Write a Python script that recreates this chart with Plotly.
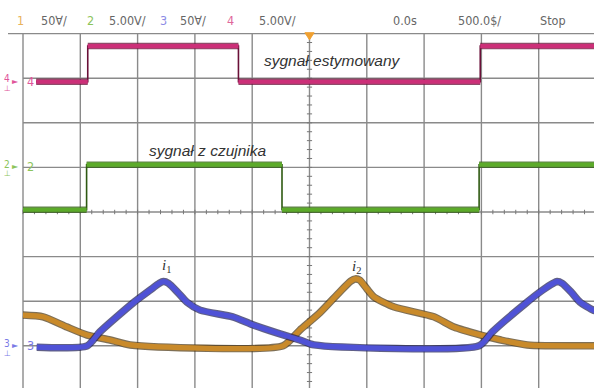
import plotly.graph_objects as go

# ---------------- data (units: screen divisions, 0 = centre of screen) ----------------
# channel 4 : "sygnał estymowany" (magenta)
t_ch4 = [-4.77, -3.87, -3.87, -1.24, -1.24, 2.98, 2.98, 5.0]
v_ch4 = [2.92, 2.92, 3.72, 3.72, 2.92, 2.92, 3.72, 3.72]
# channel 2 : "sygnał z czujnika" (green)
t_ch2 = [-5.0, -3.89, -3.89, -0.48, -0.48, 2.96, 2.96, 5.0]
v_ch2 = [0.05, 0.05, 1.06, 1.06, 0.05, 0.05, 1.06, 1.06]
# channel 3 : current i1 (blue)
t_ch3 = [-4.76, -3.88, -3.66, -3.08, -2.78, -2.62, -2.55, -2.46, -2.30, -2.14, -1.91, -1.34,
         -0.99, -0.57, -0.17, 0.08, 2.96, 3.19, 3.78, 4.07, 4.25, 4.32, 4.41, 4.57, 4.72, 4.95, 5.0]
v_ch3 = [-3.03, -3.00, -2.69, -2.04, -1.75, -1.60, -1.56, -1.60, -1.80, -2.02, -2.20, -2.35,
         -2.53, -2.71, -2.87, -2.98, -3.00, -2.69, -2.04, -1.75, -1.60, -1.56, -1.60, -1.80, -2.02, -2.20, -2.22]
# channel 1 : current i2 (orange)
t_ch1 = [-5.0, -4.65, -4.23, -3.88, -3.48, -3.13, -0.46, -0.17, 0.18, 0.53, 0.72, 0.80, 0.88,
         1.00, 1.13, 1.48, 2.17, 2.52, 2.99, 3.34, 3.80, 5.0]
v_ch1 = [-2.31, -2.35, -2.58, -2.76, -2.87, -2.98, -3.00, -2.65, -2.26, -1.79, -1.55, -1.50, -1.53,
         -1.72, -1.91, -2.13, -2.35, -2.58, -2.76, -2.87, -2.98, -3.00]

# header texts
hdr_texts = ["1", "50∀/", "2", "5.00V/", "3", "50∀/", "4", "5.00V/", "0.0s", "500.0$/", "Stop"]
hdr_colors = ["#e8b35a", "#666", "#8cc45a", "#666", "#8c8ce6", "#666", "#e0679a", "#666",
              "#666", "#666", "#666"]
hdr_px = [20, 54, 90, 127, 163, 193, 230, 277, 405, 479, 553]

# ---------------- geometry ----------------
W, H = 594, 388
X0, DX = 309.5, 57.3
Y0, DY = 212.0, 44.6
xr = [(0 - X0) / DX, (W - X0) / DX]
yr = [(Y0 - H) / DY, Y0 / DY]


def px(xp):
    return xp / W


def py(yp):
    return 1 - yp / H


def flats(t, v):
    xs, ys = [], []
    for i in range(len(t) - 1):
        if v[i] == v[i + 1]:
            xs += [t[i], t[i + 1], None]
            ys += [v[i], v[i + 1], None]
    return xs, ys


fig = go.Figure()

# square waves: thin edges + thick levels
for t, v, dark, col in [(t_ch4, v_ch4, "#6a1038", "#cc2f78"),
                        (t_ch2, v_ch2, "#2f5a12", "#5cab2a")]:
    fig.add_trace(go.Scatter(x=t, y=v, mode="lines", line=dict(color=dark, width=1.6),
                             hoverinfo="skip", showlegend=False))
    fx, fy = flats(t, v)
    fig.add_trace(go.Scatter(x=fx, y=fy, mode="lines", line=dict(color=dark, width=6.5),
                             opacity=0.75, hoverinfo="skip", showlegend=False))
    fig.add_trace(go.Scatter(x=fx, y=fy, mode="lines", line=dict(color=col, width=4.2),
                             hoverinfo="skip", showlegend=False))

# currents
for t, v, dark, col in [(t_ch1, v_ch1, "#4a3410", "#c98a2a"),
                        (t_ch3, v_ch3, "#1e1e55", "#4f52d6")]:
    fig.add_trace(go.Scatter(x=t, y=v, mode="lines",
                             line=dict(color=dark, width=7.5, shape="spline", smoothing=0.6),
                             opacity=0.7, hoverinfo="skip", showlegend=False))
    fig.add_trace(go.Scatter(x=t, y=v, mode="lines",
                             line=dict(color=col, width=5.2, shape="spline", smoothing=0.6),
                             hoverinfo="skip", showlegend=False))

# ---------------- grid ----------------
shapes = []
gcol = "#8a8a8a"
for k in range(-5, 6):
    shapes.append(dict(type="line", xref="x", yref="y", x0=k, x1=k, y0=-4.2, y1=4.0,
                       line=dict(color=gcol, width=1.4), layer="below"))
for k in range(-4, 4):
    shapes.append(dict(type="line", xref="x", yref="y", x0=-5, x1=5.2, y0=k, y1=k,
                       line=dict(color=gcol, width=1.4), layer="below"))
shapes.append(dict(type="line", xref="x", yref="y", x0=(8 - X0) / DX, x1=5.2, y0=4.0, y1=4.0,
                   line=dict(color=gcol, width=1.4), layer="below"))
for i in range(-25, 26):
    x = i / 5
    shapes.append(dict(type="line", xref="x", yref="y", x0=x, x1=x, y0=-0.05, y1=0.05,
                       line=dict(color="#777", width=1), layer="below"))
for i in range(-20, 21):
    y = i / 5
    shapes.append(dict(type="line", xref="x", yref="y", x0=-0.045, x1=0.045, y0=y, y1=y,
                       line=dict(color="#777", width=1), layer="below"))
shapes.append(dict(type="path", xref="x", yref="y",
                   path="M -0.08 4.02 L 0.08 4.02 L 0 3.86 Z",
                   fillcolor="#f0a030", line=dict(color="#f0a030", width=1)))

ann = []


def add_text(text, xp, yp, size, color, family):
    ann.append(dict(text=text, x=px(xp), y=py(yp), xref="paper", yref="paper",
                    xanchor="center", yanchor="middle", showarrow=False,
                    font=dict(family=family, size=size, color=color)))


hfont = "Liberation Sans Narrow, DejaVu Sans Condensed, Arial Narrow, sans-serif"
for txt, c, x in zip(hdr_texts, hdr_colors, hdr_px):
    add_text(txt, x, 20, 12.5, c, hfont)

lfont = "Liberation Sans, Arial, sans-serif"
add_text("<i>sygnał estymowany</i>", 333, 60, 15.5, "#333", lfont)
add_text("<i>sygnał z czujnika</i>", 208, 151, 15.5, "#333", lfont)
add_text("<i>i</i><sub>1</sub>", 166, 266, 15, "#333", "Liberation Serif, serif")
add_text("<i>i</i><sub>2</sub>", 356, 267, 15, "#333", "Liberation Serif, serif")

# channel ground markers
for lab, col, yp in [("4", "#e0559a", 81), ("2", "#8cc45a", 166), ("3", "#7a7ae6", 345)]:
    add_text(lab, 7, yp - 2, 10, col, hfont)
    add_text("►", 15, yp, 8, col, "DejaVu Sans")
    add_text("⊥", 7, yp + 8, 8, col, "DejaVu Sans")
    add_text(lab, 30, yp, 12.5, col, hfont)

fig.update_layout(
    width=W, height=H, autosize=False,
    margin=dict(l=0, r=0, t=0, b=0),
    paper_bgcolor="white", plot_bgcolor="white",
    xaxis=dict(range=xr, visible=False, fixedrange=True),
    yaxis=dict(range=yr, visible=False, fixedrange=True),
    shapes=shapes, annotations=ann, showlegend=False,
)

fig.write_html("out.html", config={"displayModeBar": False},
               post_script="document.body.style.margin='0';document.body.style.overflow='hidden';")
